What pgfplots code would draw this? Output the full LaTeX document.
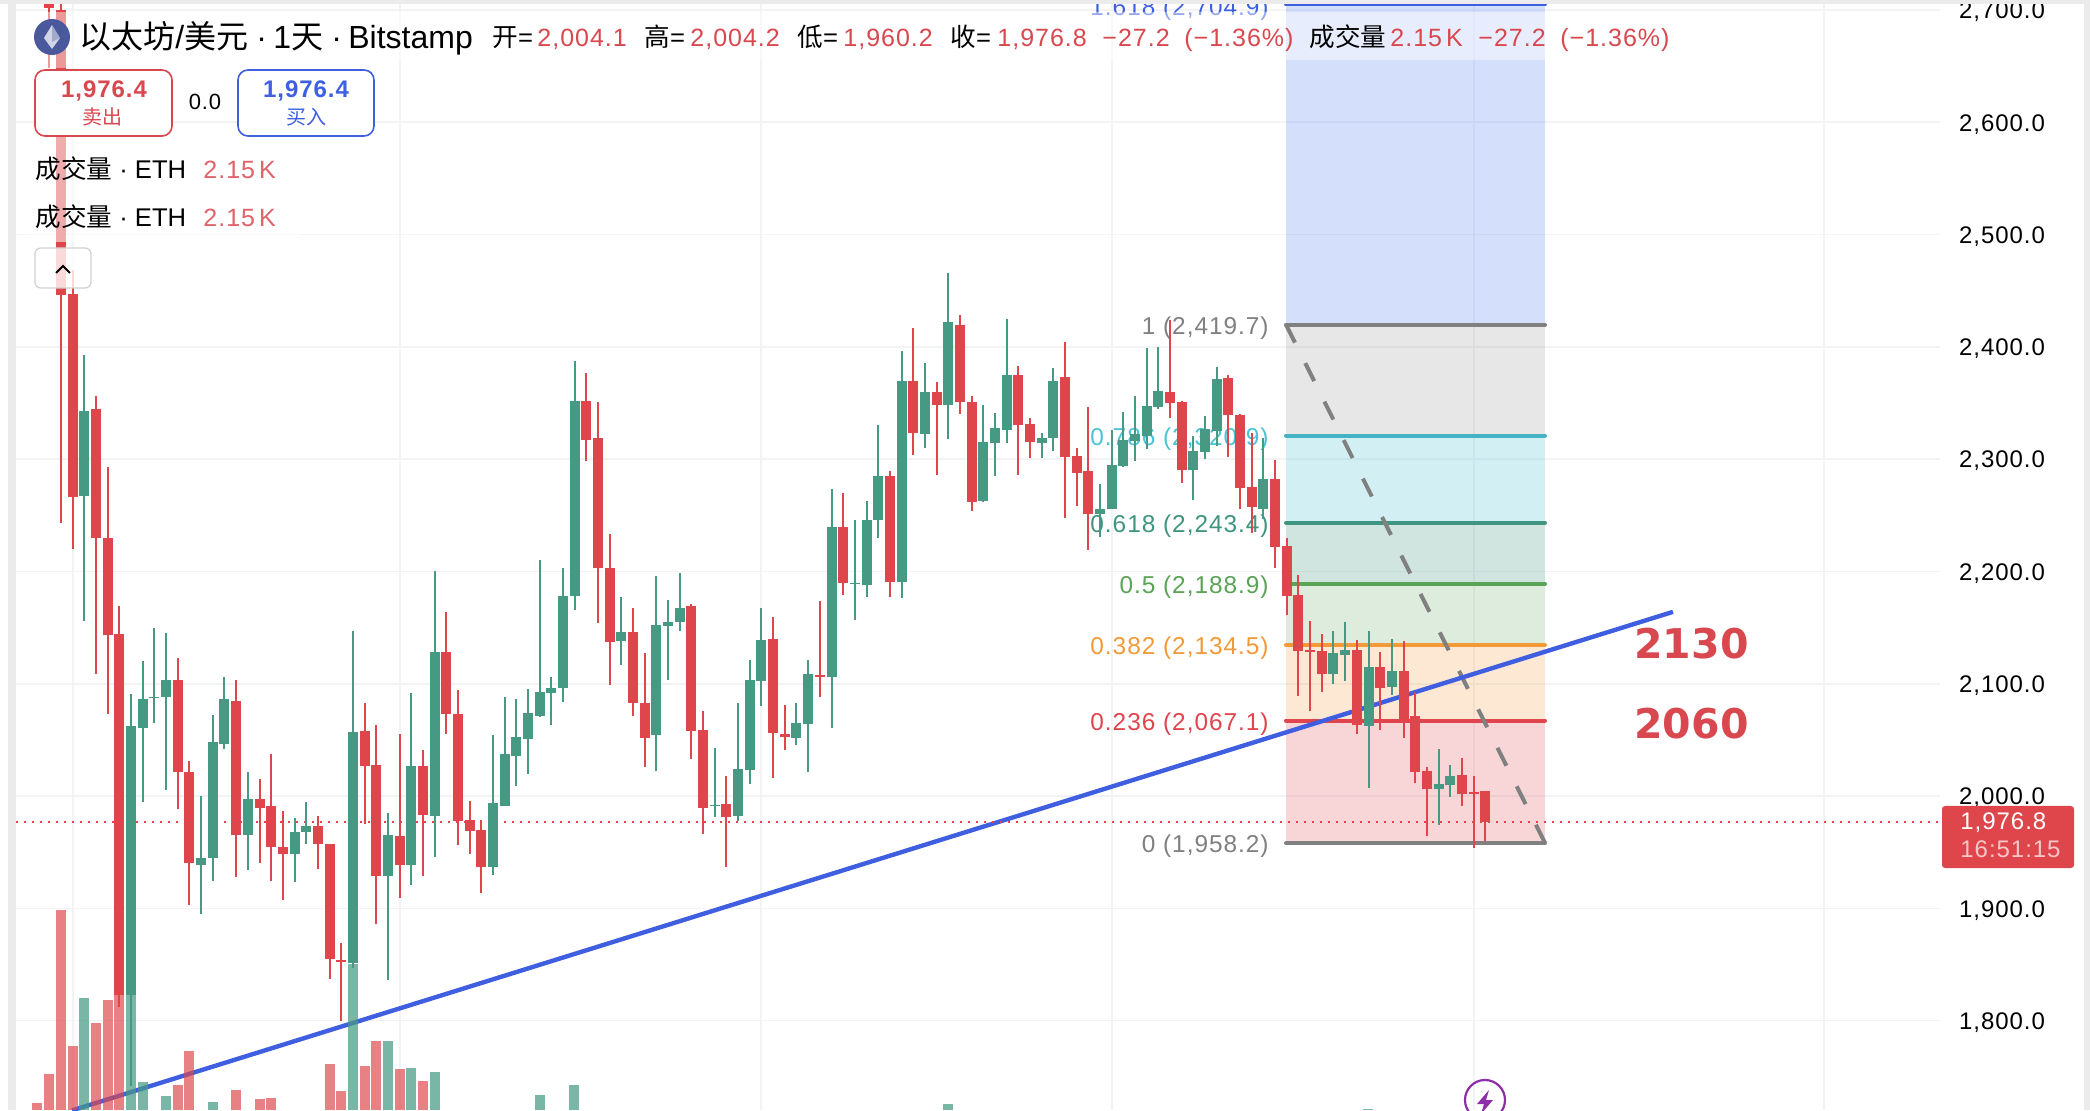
\documentclass[border=0pt]{standalone}
\usepackage{fontspec}
\usepackage{pgfplots}
\usepackage{pgfplotstable}
\pgfplotsset{compat=1.18}
\setmainfont{Liberation Sans}
\newfontfamily\cjk{Noto Sans CJK SC}
\newfontfamily\numf[LetterSpace=4]{Liberation Sans}
\newfontfamily\numb[LetterSpace=4]{Liberation Sans Bold}
\newfontfamily\dvb{DejaVu Sans Bold}
\newcommand\fs[1]{\fontsize{#1}{#1}\selectfont}
\definecolor{cred}{HTML}{DE464B}
\definecolor{cgreen}{HTML}{469A83}
\definecolor{lred}{HTML}{E0444C}
\definecolor{lorange}{HTML}{F29A38}
\definecolor{lgreen}{HTML}{5AA455}
\definecolor{lteal}{HTML}{3F9580}
\definecolor{lcyan}{HTML}{4CC3D6}
\definecolor{lgray}{HTML}{808080}
\definecolor{lblue}{HTML}{3F5FE0}
\definecolor{fblue}{HTML}{3F6FF5}
\definecolor{hred}{HTML}{D9474F}
\definecolor{gridc}{HTML}{F3F3F5}
\definecolor{pagebg}{HTML}{EBEBEB}
\pgfplotstableread{
x top bot high low
49 2706 2702 2708 2648
61 2700 2446 2705 2243
73 2447 2266 2468 2220
96 2345 2230 2356 2109
108 2230 2143 2293 2073
119 2144 1823 2169 1812
178 2103 2021 2123 1988
189 2021 1940 2031 1903
236 2085 1965 2103 1928
260 1997 1989 2015 1940
271 1991 1955 2037 1924
283 1955 1948 1987 1907
318 1973 1957 1982 1935
330 1957 1855 1957 1837
341 1854 1852 1869 1800
365 2058 2027 2083 1975
376 2028 1929 2063 1886
400 1964 1939 2055 1909
423 2027 1983 2041 1929
446 2128 2073 2164 2055
458 2073 1978 2094 1956
470 1979 1969 1996 1948
481 1970 1937 1979 1914
586 2352 2317 2377 2298
598 2319 2203 2351 2154
610 2203 2137 2233 2099
633 2146 2083 2167 2071
645 2083 2052 2127 2026
691 2169 2058 2171 2033
703 2059 1989 2076 1966
726 1993 1981 2018 1937
773 2140 2056 2159 2016
785 2055 2053 2081 2041
820 2108 2106 2174 2088
843 2240 2190 2270 2179
890 2285 2191 2289 2177
913 2370 2323 2417 2304
937 2360 2348 2369 2286
960 2419 2351 2428 2340
972 2351 2262 2356 2254
1018 2375 2330 2383 2286
1030 2331 2315 2337 2301
1065 2373 2302 2404 2248
1077 2303 2288 2310 2258
1088 2289 2251 2346 2219
1170 2360 2350 2424 2337
1182 2351 2290 2352 2279
1228 2372 2339 2375 2302
1240 2339 2274 2340 2256
1252 2275 2257 2323 2234
1275 2282 2222 2299 2203
1287 2223 2178 2230 2161
1298 2179 2129 2197 2089
1310 2130 2128 2156 2076
1322 2129 2109 2144 2093
1357 2130 2063 2139 2055
1380 2115 2096 2128 2059
1404 2111 2069 2138 2052
1415 2071 2021 2093 2012
1427 2022 2006 2026 1964
1462 2019 2002 2034 1991
1474 2004 2002 2018 1954
1485 2004.1 1976.8 2004.2 1960.2
}\redc
\pgfplotstableread{
x top bot high low
84 2343 2267 2393 2156
131 2062 1823 2091 1742
143 2086 2061 2120 1995
154 2088 2087 2150 2065
166 2103 2088 2145 2005
201 1945 1939 2000 1895
213 2048 1945 2072 1924
224 2086 2046 2106 2042
248 1997 1965 2021 1934
295 1968 1948 1980 1923
306 1973 1968 1995 1957
353 2057 1851 2147 1847
388 1965 1929 1985 1836
411 2027 1939 2092 1921
435 2128 1982 2200 1946
493 1994 1937 2054 1930
505 2037 1991 2088 1991
516 2053 2036 2086 2009
528 2074 2051 2095 2020
540 2093 2071 2210 2070
551 2096 2092 2106 2063
563 2178 2096 2203 2084
575 2352 2178 2387 2166
621 2146 2138 2177 2117
656 2152 2054 2196 2022
668 2155 2151 2175 2103
680 2167 2155 2199 2147
715 1992 1991 2043 1981
738 2024 1982 2083 1978
750 2103 2023 2121 2011
761 2139 2102 2167 2080
796 2065 2052 2083 2045
808 2109 2064 2121 2021
832 2240 2106 2273 2061
855 2190 2189 2246 2157
867 2246 2188 2263 2177
878 2285 2246 2330 2230
902 2370 2191 2396 2176
925 2360 2322 2386 2310
948 2422 2348 2466 2318
983 2315 2263 2348 2262
995 2328 2314 2341 2285
1007 2375 2326 2425 2314
1042 2319 2314 2323 2301
1053 2370 2319 2381 2307
1100 2256 2251 2278 2231
1112 2295 2256 2326 2256
1123 2317 2294 2342 2293
1135 2322 2316 2356 2298
1147 2347 2321 2399 2309
1158 2361 2346 2400 2345
1193 2307 2290 2321 2264
1205 2327 2306 2338 2300
1217 2371 2325 2382 2312
1263 2282 2256 2319 2247
1333 2127 2109 2147 2100
1345 2130 2126 2155 2102
1369 2115 2062 2147 2007
1392 2111 2097 2140 2090
1439 2011 2006 2042 1974
1450 2018 2010 2028 1999
}\greenc
\pgfplotstableread{
x v
37.5 7
49 36
61 200
73 64
96 87
108 110
119 115
178 25
189 59
236 20
260 11
271 12
330 46
341 19
365 44
376 69
400 41
423 29
}\redv
\pgfplotstableread{
x v
84 112
131 115
143 28
166 14
213 8
353 146
388 69
411 42
435 38
540 15
574 25
948 6
1368 1
}\greenv
\pgfplotsset{
  base/.style={at={(8pt,0pt)},anchor=south west,scale only axis,width=962pt,height=553pt,
    xmin=16,xmax=1940,ymin=1720.4,ymax=2705.3},
  fibfill/.style n args={2}{draw=none,fill=#1,fill opacity=#2,forget plot},
  fibline/.style={draw=#1,line width=2pt,line cap=round,forget plot},
  cand/.style={draw=none,mark=none,forget plot,error bars/.cd,y dir=plus,y explicit,
     error mark=none,error bar style={color=#1}},
}
\newcommand\T[3]{\node[anchor=base west,inner sep=0pt] at (#1,#2) {#3};}
\newcommand\Tc[3]{\node[anchor=base,inner sep=0pt] at (#1,#2) {#3};}
\begin{document}
\begin{tikzpicture}
\path[use as bounding box] (0,0) rectangle (1045pt,555pt);
\fill[white] (0,0) rectangle (1045pt,555pt);
% axis 1: grid, fib, labels
\begin{axis}[base,
  axis line style={draw=none},tick style={draw=none},major tick length=0pt,
  xtick={73,400,761,1112,1474,1824},xticklabels={},
  ytick={1800,1900,2000,2100,2200,2300,2400,2500,2600,2700},
  yticklabel pos=right,
  grid=major,grid style={color=gridc,line width=0.8pt},
  /pgf/number format/.cd,assume math mode=true,fixed,fixed zerofill,precision=1,1000 sep={,},
  /tikz/.cd,
  yticklabel style={anchor=west,xshift=6pt,yshift=-1pt,font=\numf\fs{12},text=black},
  ]
\addplot[fibfill={lred}{0.22}] coordinates {(1286,1958.2)(1545,1958.2)(1545,2067.1)(1286,2067.1)} --cycle;
\addplot[fibfill={lorange}{0.22}] coordinates {(1286,2067.1)(1545,2067.1)(1545,2134.5)(1286,2134.5)} --cycle;
\addplot[fibfill={lgreen}{0.2}] coordinates {(1286,2134.5)(1545,2134.5)(1545,2188.9)(1286,2188.9)} --cycle;
\addplot[fibfill={lteal}{0.24}] coordinates {(1286,2188.9)(1545,2188.9)(1545,2243.4)(1286,2243.4)} --cycle;
\addplot[fibfill={lcyan}{0.25}] coordinates {(1286,2243.4)(1545,2243.4)(1545,2320.9)(1286,2320.9)} --cycle;
\addplot[fibfill={lgray}{0.19}] coordinates {(1286,2320.9)(1545,2320.9)(1545,2419.7)(1286,2419.7)} --cycle;
\addplot[fibfill={fblue}{0.22}] coordinates {(1286,2419.7)(1545,2419.7)(1545,2704.9)(1286,2704.9)} --cycle;
\addplot[fibline=lgray] coordinates {(1286,1958.2)(1545,1958.2)};
\addplot[fibline=lred] coordinates {(1286,2067.1)(1545,2067.1)};
\addplot[fibline=lorange] coordinates {(1286,2134.5)(1545,2134.5)};
\addplot[fibline=lgreen] coordinates {(1286,2188.9)(1545,2188.9)};
\addplot[fibline=lteal] coordinates {(1286,2243.4)(1545,2243.4)};
\addplot[fibline=lcyan!92!black] coordinates {(1286,2320.9)(1545,2320.9)};
\addplot[fibline=lgray] coordinates {(1286,2419.7)(1545,2419.7)};
\addplot[fibline=lblue] coordinates {(1286,2704.9)(1545,2704.9)};
\addplot[lgray,line width=2pt,dash pattern=on 10pt off 11.5pt,forget plot] coordinates {(1286,2419.7)(1545,1958.2)};
\addplot[lblue,line width=2.2pt,forget plot] coordinates {(72,1720)(1673,2164)};
\addplot[cred,line width=0.7pt,dash pattern=on 1.1pt off 2.9pt,forget plot] coordinates {(16,1976.8)(1940,1976.8)};
\node[anchor=east,inner sep=0pt,yshift=-1.6pt,font=\numf\fs{12.2},text=lgray] at (axis cs:1269,1958.2) {0 (1,958.2)};
\node[anchor=east,inner sep=0pt,yshift=-1.6pt,font=\numf\fs{12.2},text=lred] at (axis cs:1269,2067.1) {0.236 (2,067.1)};
\node[anchor=east,inner sep=0pt,yshift=-1.6pt,font=\numf\fs{12.2},text=lorange] at (axis cs:1269,2134.5) {0.382 (2,134.5)};
\node[anchor=east,inner sep=0pt,yshift=-1.6pt,font=\numf\fs{12.2},text=lgreen] at (axis cs:1269,2188.9) {0.5 (2,188.9)};
\node[anchor=east,inner sep=0pt,yshift=-1.6pt,font=\numf\fs{12.2},text=lteal] at (axis cs:1269,2243.4) {0.618 (2,243.4)};
\node[anchor=east,inner sep=0pt,yshift=-1.6pt,font=\numf\fs{12.2},text=lcyan] at (axis cs:1269,2320.9) {0.786 (2,320.9)};
\node[anchor=east,inner sep=0pt,yshift=-1.6pt,font=\numf\fs{12.2},text=lgray] at (axis cs:1269,2419.7) {1 (2,419.7)};
\node[anchor=east,inner sep=0pt,yshift=-2.4pt,font=\numf\fs{12.2},text=lblue] at (axis cs:1269,2704.9) {1.618 (2,704.9)};
\end{axis}
% axis 2: candles
\begin{axis}[base,hide axis]
\addplot[cand=cred,error bar style={line width=0.8pt}] table[x=x,y=low,y error plus expr=\thisrow{high}-\thisrow{low}] {\redc};
\addplot[cand=cgreen,error bar style={line width=0.8pt}] table[x=x,y=low,y error plus expr=\thisrow{high}-\thisrow{low}] {\greenc};
\addplot[cand=cred,error bar style={line width=5pt}] table[x=x,y=bot,y error plus expr=\thisrow{top}-\thisrow{bot}] {\redc};
\addplot[cand=cgreen,error bar style={line width=5pt}] table[x=x,y=bot,y error plus expr=\thisrow{top}-\thisrow{bot}] {\greenc};
\end{axis}
% axis 3: volume (height scale of its own)
\begin{axis}[base,hide axis,ymin=0,ymax=1106]
\addplot[ycomb,mark=none,draw=cred,line width=5pt,opacity=0.68,forget plot] table[x=x,y=v] {\redv};
\addplot[ycomb,mark=none,draw=cgreen,line width=5pt,opacity=0.72,forget plot] table[x=x,y=v] {\greenv};
\end{axis}
% interface, in reference pixels
\begin{scope}[x=0.5pt,y=-0.5pt,shift={(0pt,555pt)}]
\fill[white,opacity=0.45] (16,12) rectangle (1680,60);
\fill[white,opacity=0.45] (16,60) rectangle (300,68);
\fill[white,opacity=0.55] (30,137) rectangle (300,242);
% frame
\fill[pagebg] (0,0) rectangle (2090,4);
\fill[pagebg] (8,0) rectangle (16,1110);
\fill[pagebg] (2084,0) rectangle (2090,1110);
% eth logo
\fill[color={rgb,255:red,74;green,88;blue,156}] (52,37) circle (18);
\fill[white,opacity=0.75] (52,25)--(60,38)--(52,49)--(44,38)--cycle;
\fill[color={rgb,255:red,74;green,88;blue,156},opacity=0.35] (52,25)--(60,38)--(52,42)--cycle;
% title
\T{79}{49}{\fs{16}{\cjk 以太坊}/{\cjk 美元}}
\T{256}{49}{\fs{16}·}
\T{273}{49}{\fs{16}1{\cjk 天}}
\T{331}{49}{\fs{16}·}
\T{348}{49}{\fs{16}Bitstamp}
\begin{scope}[every node/.append style={text=black}]
\T{492}{47}{\fs{12.8}{\cjk 开}=}
\T{644}{47}{\fs{12.8}{\cjk 高}=}
\T{797}{47}{\fs{12.8}{\cjk 低}=}
\T{950}{47}{\fs{12.8}{\cjk 收}=}
\T{1309}{47}{\fs{12.8}{\cjk 成交量}}
\end{scope}
\begin{scope}[every node/.append style={text=hred}]
\T{537}{47}{\numf\fs{12.5}2,004.1}
\T{690}{47}{\numf\fs{12.5}2,004.2}
\T{843}{47}{\numf\fs{12.5}1,960.2}
\T{997}{47}{\numf\fs{12.5}1,976.8}
\T{1102}{47}{\numf\fs{12.5}−27.2}
\T{1184}{47}{\numf\fs{12.5}(−1.36\%)}
\T{1390}{47}{\numf\fs{12.5}2.15\,K}
\T{1478}{47}{\numf\fs{12.5}−27.2}
\T{1560}{47}{\numf\fs{12.5}(−1.36\%)}
\end{scope}
% sell, buy
\draw[hred,fill=white,line width=0.8pt,rounded corners=5pt] (35,70) rectangle (172,136);
\draw[lblue,fill=white,line width=0.8pt,rounded corners=5pt] (238,70) rectangle (374,136);
\Tc{104}{98}{\numb\fs{12}\color{hred}1,976.4}
\Tc{103}{125}{\cjk\fs{10}\color{hred}卖出}
\Tc{205}{110}{\numf\fs{11}\color{black}0.0}
\Tc{306}{98}{\numb\fs{12}\color{lblue}1,976.4}
\Tc{306}{125}{\cjk\fs{10}\color{lblue}买入}
% volume legend
\T{35}{179}{\fs{12.8}{\cjk 成交量}\ ·\ ETH}
\T{203}{179}{\numf\fs{12.5}\color{hred!85!white}2.15\,K}
\T{35}{227}{\fs{12.8}{\cjk 成交量}\ ·\ ETH}
\T{203}{227}{\numf\fs{12.5}\color{hred!85!white}2.15\,K}
% collapse button
\draw[black!18,fill=white,fill opacity=0.8,line width=0.6pt,rounded corners=3pt] (35,248) rectangle (91,288);
\draw[black,line width=0.9pt] (56,273)--(63,266)--(70,273);
% annotations
\node[anchor=base west,inner sep=0pt,text=hred] at (1634,659) {\dvb\fs{20.5}2130};
\node[anchor=base west,inner sep=0pt,text=hred] at (1634,739) {\dvb\fs{20.5}2060};
% last price
\fill[cred,rounded corners=1.5pt] (1942,806) rectangle (2074,868);
\T{1960}{830}{\numf\fs{12}\color{white}1,976.8}
\T{1960}{857}{\numf\fs{12}\color{white!70!cred}16:51:15}
% lightning
\draw[color={rgb,255:red,142;green,45;blue,170},line width=1.1pt] (1485,1100) circle (20);
\fill[color={rgb,255:red,142;green,45;blue,170}] (1489,1090)--(1477,1104)--(1484,1104)--(1481,1114)--(1493,1100)--(1486,1100)--cycle;
\end{scope}
\end{tikzpicture}
\end{document}
